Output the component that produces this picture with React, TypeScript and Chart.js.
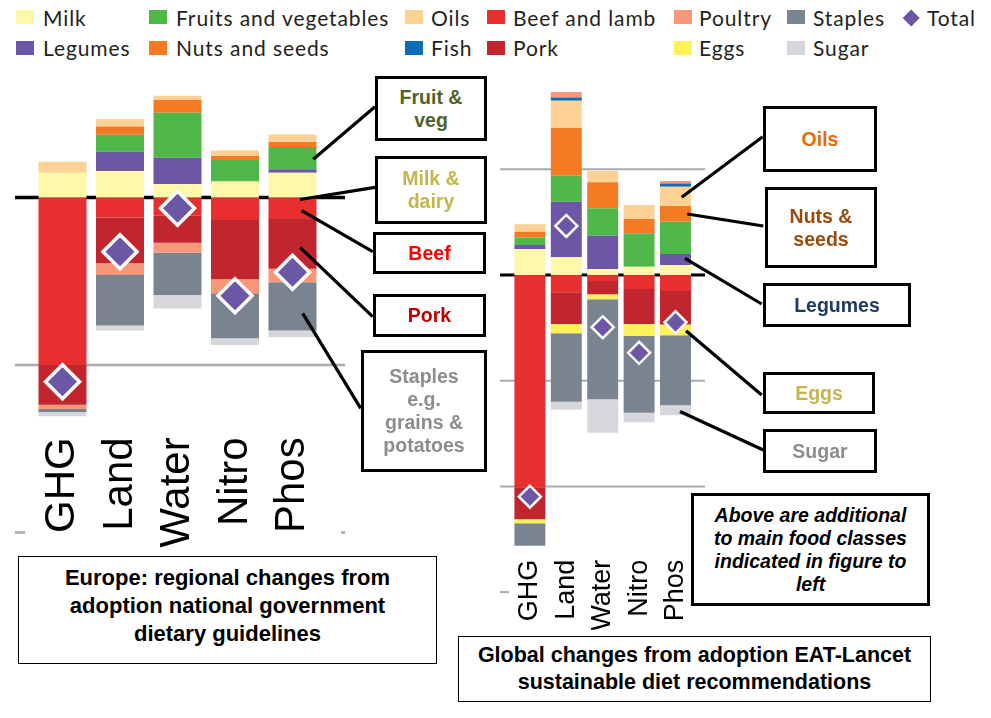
import React, { useEffect, useRef } from 'react';
import { Chart, registerables } from 'chart.js';

Chart.register(...registerables);

// ---------- DATA ----------
const categories = ['GHG', 'Land', 'Water', 'Nitro', 'Phos'];

const seriesNames = [
  'Milk', 'Legumes', 'Fruits and vegetables', 'Nuts and seeds', 'Oils', 'Fish',
  'Beef and lamb', 'Pork', 'Poultry', 'Eggs', 'Staples', 'Sugar',
];

// Europe: national dietary guidelines (% change)
const euMilk = [7.4, 7.9, 4.0, 4.8, 7.4];
const euLegumes = [0, 5.8, 7.9, 0, 1.0];
const euFruits = [0, 5.0, 13.4, 6.4, 6.7];
const euNuts = [0, 2.5, 3.8, 1.2, 1.5];
const euOils = [3.3, 2.2, 1.3, 1.6, 2.2];
const euFish = [0, 0, 0, 0, 0];
const euBeef = [-50.0, -6.0, -5.4, -6.7, -6.4];
const euPork = [-11.9, -13.6, -8.1, -17.7, -14.9];
const euPoultry = [-1.2, -3.5, -3.0, -4.2, -4.0];
const euEggs = [0, 0, 0, 0, 0];
const euStaples = [-0.9, -15.1, -12.6, -13.4, -14.4];
const euSugar = [-1.3, -1.5, -4.0, -2.0, -2.0];
const euTotal = [-55.0, -16.2, -3.2, -29.3, -22.3];

// Global: EAT-Lancet recommendations (% change)
const glMilk = [12.3, 8.4, 2.8, 3.9, 4.7];
const glLegumes = [1.9, 26.3, 15.8, 0, 5.2];
const glFruits = [3.5, 12.2, 13.0, 15.8, 15.3];
const glNuts = [2.8, 22.6, 12.3, 6.8, 7.4];
const glOils = [3.5, 12.9, 5.3, 6.6, 9.1];
const glFish = [0, 1.6, 0, 0, 1.6];
const glBeef = [-100.4, -8.2, -2.8, -6.6, -7.6];
const glPork = [-15.1, -15.0, -6.3, -16.6, -15.8];
const glPoultry = [0, 2.6, 0, 0, 1.1];
const glEggs = [-1.9, -4.4, -2.4, -5.7, -5.1];
const glStaples = [-10.7, -32.4, -47.3, -36.3, -33.1];
const glSugar = [0, -3.6, -15.8, -4.5, -4.7];
const glTotal = [-104.9, 23.2, -24.7, -36.8, -22.4];

// ---------- STYLE ----------
const seriesColors = [
  '#fff7a9', '#6b57a6', '#4fb848', '#f47b24', '#fed294', '#0b6cb7',
  '#e82f2f', '#c1252d', '#f8967a', '#fdf25a', '#7a8491', '#d6d7db',
];
const totalColor = '#6b57a5';
const gridGray = '#aaaaae';

type LineCfg = { value: number; color: string; width: number; stubLeft?: number; stubRight?: number };

function makeRefLines(lines: LineCfg[], extendLeft: number, extendRight: number) {
  return {
    id: 'refLines',
    beforeDatasetsDraw(chart: any) {
      const { ctx, chartArea, scales } = chart;
      const x0 = chartArea.left - extendLeft;
      const x1 = chartArea.right + extendRight;
      ctx.save();
      for (const l of lines) {
        const py = scales.y.getPixelForValue(l.value);
        ctx.strokeStyle = l.color;
        ctx.lineWidth = l.width;
        ctx.beginPath();
        if (l.stubLeft !== undefined || l.stubRight !== undefined) {
          if (l.stubLeft) { ctx.moveTo(x0, py); ctx.lineTo(x0 + l.stubLeft, py); }
          if (l.stubRight) { ctx.moveTo(x1 - l.stubRight, py); ctx.lineTo(x1, py); }
        } else {
          ctx.moveTo(x0, py);
          ctx.lineTo(x1, py);
        }
        ctx.stroke();
      }
      ctx.restore();
    },
  };
}

type ChartProps = {
  left: number; top: number; width: number; height: number;
  values: number[][]; totals: number[];
  padding: { left: number; right: number; top: number; bottom: number };
  axisHeight: number; yMin: number; yMax: number;
  tickSize: number; tickPadding: number; barPct: number;
  pointRadius: number; pointBorder: number;
  lines: LineCfg[]; extendLeft: number; extendRight: number;
};

function StackChart(p: ChartProps) {
  const ref = useRef<HTMLCanvasElement>(null);
  useEffect(() => {
    const bars = p.values.map((data, i) => ({
      type: 'bar' as const,
      label: seriesNames[i],
      data,
      backgroundColor: seriesColors[i],
      borderWidth: 0,
      barPercentage: p.barPct,
      categoryPercentage: 1,
      stack: 'food',
    }));
    const total = {
      type: 'line' as const,
      label: 'Total',
      data: p.totals,
      showLine: false,
      pointStyle: 'rectRot',
      pointRadius: p.pointRadius,
      pointHoverRadius: p.pointRadius,
      pointBackgroundColor: totalColor,
      pointBorderColor: '#ffffff',
      pointBorderWidth: p.pointBorder,
      order: -1,
      stack: 'total',
      clip: false as any,
    };
    const chart = new Chart(ref.current!, {
      type: 'bar',
      data: { labels: categories, datasets: [total as any, ...bars] },
      options: {
        responsive: false,
        animation: false,
        devicePixelRatio: 1,
        layout: { padding: p.padding, autoPadding: false },
        plugins: { legend: { display: false }, tooltip: { enabled: false } },
        scales: {
          x: {
            stacked: true,
            offset: true,
            grid: { display: false },
            border: { display: false },
            ticks: {
              autoSkip: false,
              maxRotation: 90,
              minRotation: 90,
              padding: p.tickPadding,
              color: '#000',
              font: { family: '"Liberation Sans", Arial, sans-serif', size: p.tickSize },
            },
            afterFit: (scale: any) => { scale.height = p.axisHeight; },
          },
          y: {
            stacked: true,
            display: false,
            min: p.yMin,
            max: p.yMax,
          },
        },
      },
      plugins: [makeRefLines(p.lines, p.extendLeft, p.extendRight)],
    });
    return () => chart.destroy();
  }, []);
  return (
    <canvas
      ref={ref}
      width={p.width}
      height={p.height}
      style={{ position: 'absolute', left: p.left, top: p.top, width: p.width, height: p.height }}
    />
  );
}

// ---------- LEGEND ----------
const legendItems: { name: string; color: string; sx: number; tx: number; row: number }[] = [
  { name: 'Milk', color: seriesColors[0], sx: 16, tx: 43, row: 0 },
  { name: 'Legumes', color: seriesColors[1], sx: 16, tx: 43, row: 1 },
  { name: 'Fruits and vegetables', color: seriesColors[2], sx: 149, tx: 176, row: 0 },
  { name: 'Nuts and seeds', color: seriesColors[3], sx: 149, tx: 176, row: 1 },
  { name: 'Oils', color: seriesColors[4], sx: 405, tx: 431, row: 0 },
  { name: 'Fish', color: seriesColors[5], sx: 405, tx: 431, row: 1 },
  { name: 'Beef and lamb', color: seriesColors[6], sx: 487, tx: 513, row: 0 },
  { name: 'Pork', color: seriesColors[7], sx: 487, tx: 513, row: 1 },
  { name: 'Poultry', color: seriesColors[8], sx: 674, tx: 699, row: 0 },
  { name: 'Eggs', color: seriesColors[9], sx: 674, tx: 699, row: 1 },
  { name: 'Staples', color: seriesColors[10], sx: 787, tx: 813, row: 0 },
  { name: 'Sugar', color: seriesColors[11], sx: 787, tx: 813, row: 1 },
];

function Legend() {
  const swTop = [10, 40.7];
  const txTop = [6.5, 36.5];
  const font = {
    fontFamily: 'Lato, "Open Sans", sans-serif', fontSize: 21, lineHeight: '21px',
    letterSpacing: '0.9px', color: '#231f20',
  };
  return (
    <>
      {legendItems.map((it) => (
        <React.Fragment key={it.name}>
          <div style={{ position: 'absolute', left: it.sx, top: swTop[it.row], width: 18, height: 14, background: it.color }} />
          <div style={{ position: 'absolute', left: it.tx, top: txTop[it.row], whiteSpace: 'nowrap', ...font }}>{it.name}</div>
        </React.Fragment>
      ))}
      <div style={{ position: 'absolute', left: 904.8, top: 11.5, width: 12.4, height: 12.4, background: totalColor, transform: 'rotate(45deg)' }} />
      <div style={{ position: 'absolute', left: 927, top: txTop[0], whiteSpace: 'nowrap', ...font }}>Total</div>
    </>
  );
}

// ---------- ANNOTATIONS ----------
type BoxCfg = {
  lines: string[]; left: number; top: number; width: number; height: number;
  color: string; border: number; size: number; lh: number; italic?: boolean; padBottom?: number;
};

const boxes: BoxCfg[] = [
  { lines: ['Fruit &', 'veg'], left: 375, top: 76, width: 112, height: 65, color: '#4f6228', border: 3, size: 19.5, lh: 23 },
  { lines: ['Milk &', 'dairy'], left: 375, top: 156, width: 112, height: 68, color: '#c3b74b', border: 3, size: 19.5, lh: 23 },
  { lines: ['Beef'], left: 373, top: 232, width: 113, height: 42, color: '#ff0000', border: 3, size: 19.5, lh: 23 },
  { lines: ['Pork'], left: 373, top: 294, width: 113, height: 43, color: '#c00000', border: 3, size: 19.5, lh: 23 },
  { lines: ['Staples', 'e.g.', 'grains &', 'potatoes'], left: 361, top: 350, width: 126, height: 122, color: '#8c8c8c', border: 3, size: 19.5, lh: 23 },
  { lines: ['Oils'], left: 763, top: 106, width: 114, height: 66, color: '#e46c0a', border: 3, size: 19.5, lh: 23 },
  { lines: ['Nuts &', 'seeds'], left: 765, top: 187, width: 112, height: 81, color: '#9c4a0c', border: 3, size: 19.5, lh: 23 },
  { lines: ['Legumes'], left: 763, top: 283, width: 148, height: 44, color: '#1f3a60', border: 3, size: 19.5, lh: 23 },
  { lines: ['Eggs'], left: 763, top: 372, width: 112, height: 42, color: '#c3b74b', border: 3, size: 19.5, lh: 23 },
  { lines: ['Sugar'], left: 763, top: 429, width: 114, height: 44, color: '#8c8c8c', border: 3, size: 19.5, lh: 23 },
  { lines: ['Above are additional', 'to main food classes', 'indicated in figure to', 'left'], left: 691, top: 493, width: 239, height: 113, color: '#000', border: 3, size: 19.5, lh: 23, italic: true },
  { lines: ['Europe: regional changes from', 'adoption national government', 'dietary guidelines'], left: 18, top: 556, width: 419, height: 108, color: '#000', border: 1.5, size: 22, lh: 28, padBottom: 8 },
  { lines: ['Global changes from adoption EAT-Lancet', 'sustainable diet recommendations'], left: 458, top: 636, width: 473, height: 66, color: '#000', border: 1.5, size: 21.5, lh: 27 },
];

const connectors: [number, number, number, number][] = [
  [375, 106.7, 313.3, 159.3],
  [375, 187.3, 300, 199.5],
  [372.7, 251.7, 301.7, 210.7],
  [372.7, 316.7, 300, 247.3],
  [360.7, 408.3, 302.7, 313.3],
  [762.7, 136.7, 681.7, 197.3],
  [763.3, 226, 687.3, 214],
  [761.7, 304, 685, 258.3],
  [761.7, 395, 686, 330.7],
  [763.3, 450, 680, 411.5],
];

function Annotations() {
  return (
    <>
      <svg width={991} height={718} style={{ position: 'absolute', left: 0, top: 0, pointerEvents: 'none' }}>
        {connectors.map(([x1, y1, x2, y2], i) => (
          <line key={i} x1={x1} y1={y1} x2={x2} y2={y2} stroke="#000" strokeWidth={3.2} />
        ))}
      </svg>
      {boxes.map((b, i) => (
        <div
          key={i}
          style={{
            position: 'absolute', left: b.left, top: b.top, width: b.width, height: b.height,
            boxSizing: 'border-box', border: `${b.border}px solid #000`, background: '#fff',
            display: 'flex', flexDirection: 'column', alignItems: 'center', justifyContent: 'center',
            paddingBottom: b.padBottom || 0,
            fontFamily: '"Liberation Sans", Arial, sans-serif', fontWeight: 'bold',
            fontStyle: b.italic ? 'italic' : 'normal',
            fontSize: b.size, lineHeight: `${b.lh}px`, color: b.color, textAlign: 'center', whiteSpace: 'nowrap',
          }}
        >
          {b.lines.map((t, j) => <div key={j}>{t}</div>)}
        </div>
      ))}
    </>
  );
}

export default function App() {
  return (
    <div style={{ position: 'absolute', left: 0, top: 0, width: 991, height: 718, background: '#fff', overflow: 'hidden' }}>
      <Legend />
      <StackChart
        left={0} top={0} width={360} height={600}
        values={[euMilk, euLegumes, euFruits, euNuts, euOils, euFish, euBeef, euPork, euPoultry, euEggs, euStaples, euSugar]}
        totals={euTotal}
        padding={{ left: 33.75, right: 38.75, top: 80.25, bottom: 34.7 }}
        axisHeight={140} yMin={-68} yMax={35}
        tickSize={42} tickPadding={4} barPct={0.835}
        pointRadius={17} pointBorder={3.5}
        lines={[
          { value: 0, color: '#000', width: 3.5 },
          { value: -50, color: gridGray, width: 2.5 },
          { value: -100, color: gridGray, width: 2.5, stubLeft: 10, stubRight: 4 },
        ]}
        extendLeft={18.75} extendRight={23.75}
      />
      <StackChart
        left={480} top={0} width={260} height={660}
        values={[glMilk, glLegumes, glFruits, glNuts, glOils, glFish, glBeef, glPork, glPoultry, glEggs, glStaples, glSugar]}
        totals={glTotal}
        padding={{ left: 31.7, right: 46.3, top: 80.5, bottom: 30.2 }}
        axisHeight={80} yMin={-130} yMax={92}
        tickSize={27} tickPadding={2} barPct={0.85}
        pointRadius={11} pointBorder={2.5}
        lines={[
          { value: 50, color: gridGray, width: 2 },
          { value: 0, color: '#000', width: 3 },
          { value: -50, color: gridGray, width: 2 },
          { value: -100, color: gridGray, width: 2 },
          { value: -150, color: gridGray, width: 2, stubLeft: 9 },
        ]}
        extendLeft={11.7} extendRight={11.3}
      />
      <Annotations />
    </div>
  );
}
